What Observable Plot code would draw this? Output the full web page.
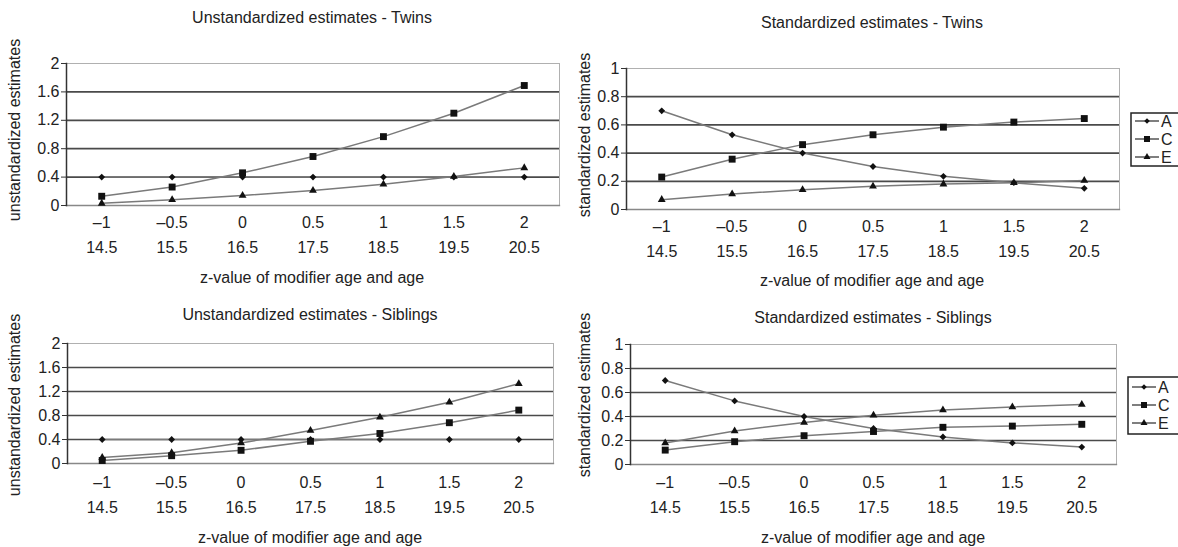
<!DOCTYPE html>
<html><head><meta charset="utf-8">
<script src="https://cdn.jsdelivr.net/npm/d3@7"></script>
<script src="https://cdn.jsdelivr.net/npm/@observablehq/plot@0.6"></script>
<style>
body{margin:0;background:#fff;overflow:hidden;}
#root{position:relative;width:1178px;height:547px;overflow:hidden;font-family:"Liberation Sans",Arial,sans-serif;color:#222;background:#fff;}
.t{position:absolute;font-size:16px;white-space:nowrap;transform:translate(-50%,-50%);line-height:1;}
.yl{position:absolute;font-size:16px;white-space:nowrap;transform:translate(-50%,-50%) rotate(-90deg);line-height:1;}
.p{position:absolute;}
</style></head><body><div id="root"></div>
<script>
// ---- data ----
const zValues = [-1, -0.5, 0, 0.5, 1, 1.5, 2];
const ageLabels = ["14.5", "15.5", "16.5", "17.5", "18.5", "19.5", "20.5"];
const seriesNames = ["A", "C", "E"];
const unstdTicks = [0, 0.4, 0.8, 1.2, 1.6, 2];
const stdTicks = [0, 0.2, 0.4, 0.6, 0.8, 1];

const twinsUnstdA = [0.40, 0.40, 0.40, 0.40, 0.40, 0.40, 0.40];
const twinsUnstdC = [0.13, 0.26, 0.46, 0.69, 0.97, 1.30, 1.69];
const twinsUnstdE = [0.03, 0.08, 0.14, 0.21, 0.30, 0.41, 0.53];

const twinsStdA = [0.70, 0.53, 0.40, 0.305, 0.235, 0.19, 0.15];
const twinsStdC = [0.23, 0.357, 0.46, 0.53, 0.584, 0.62, 0.645];
const twinsStdE = [0.07, 0.11, 0.14, 0.165, 0.18, 0.19, 0.205];

const sibUnstdA = [0.40, 0.40, 0.40, 0.40, 0.40, 0.40, 0.40];
const sibUnstdC = [0.05, 0.13, 0.22, 0.37, 0.50, 0.68, 0.89];
const sibUnstdE = [0.10, 0.18, 0.34, 0.55, 0.77, 1.02, 1.33];

const sibStdA = [0.70, 0.53, 0.40, 0.30, 0.23, 0.18, 0.145];
const sibStdC = [0.12, 0.19, 0.24, 0.275, 0.31, 0.32, 0.335];
const sibStdE = [0.18, 0.28, 0.35, 0.41, 0.455, 0.48, 0.50];

// ---- helpers ----
const root = document.getElementById("root");
const FONT = '"Liberation Sans", Arial, sans-serif';
const fmtZ = d => d < 0 ? "\u2013" + Math.abs(d) : String(d);
const fmtAge = d => ageLabels[zValues.indexOf(d)];
const symbolOf = {A: "square", C: "square", E: "triangle"};
const rotOf = {A: 45, C: 0, E: 0};
const rOf = {A: 2.7, C: 3.9, E: 2.9};

function addText(cls, text, x, y) {
  const el = document.createElement("div");
  el.className = cls;
  el.textContent = text;
  el.style.left = x + "px";
  el.style.top = y + "px";
  root.appendChild(el);
}

function panel(cfg) {
  const {left, top, width, height, fx0, fx1, fy0, fy1, yMax, yTicks, series, row1, row2} = cfg;
  const rows = [];
  seriesNames.forEach((s, k) => series[k].forEach((v, i) => rows.push({s, z: zValues[i], v})));
  const chart = Plot.plot({
    width, height,
    marginLeft: fx0 - left, marginRight: left + width - fx1,
    marginTop: fy0 - top, marginBottom: top + height - fy1,
    x: {domain: [-1.25, 2.25], label: null},
    y: {domain: [0, yMax], label: null},
    style: {fontFamily: FONT, fontSize: "16px", color: "#222", background: "transparent", overflow: "visible"},
    marks: [
      Plot.ruleY(yTicks.slice(1, -1), {stroke: "#4a4a4a", strokeWidth: 1.7}),
      Plot.frame({stroke: "#b0b0b0"}),
      Plot.frame({anchor: "bottom", stroke: "#888", strokeWidth: 1.3}),
      Plot.frame({anchor: "left", stroke: "#333", strokeWidth: 1.5}),
      Plot.axisY(yTicks, {tickSize: 5, tickPadding: 2, stroke: "#333", tickFormat: d => String(d), label: null}),
      Plot.axisX(zValues, {tickSize: 0, tickPadding: row1, tickFormat: fmtZ, label: null}),
      Plot.axisX(zValues, {tickSize: 0, tickPadding: row2, tickFormat: fmtAge, label: null}),
      Plot.line(rows, {x: "z", y: "v", z: "s", stroke: "#7a7a7a", strokeWidth: 1.5}),
      ...seriesNames.map(s => Plot.dot(rows.filter(d => d.s === s),
        {x: "z", y: "v", symbol: () => symbolOf[s], rotate: rotOf[s], r: rOf[s], fill: "#111", stroke: "none"}))
    ]
  });
  chart.classList.add("p");
  chart.style.left = left + "px";
  chart.style.top = top + "px";
  root.appendChild(chart);
}

function legend(left, top, rowsY, boxH) {
  const w = 62;
  const svg = d3.create("svg").attr("width", w).attr("height", boxH + 4)
    .style("position", "absolute").style("left", left + "px").style("top", top + "px")
    .style("font-family", FONT).style("font-size", "16px");
  svg.append("rect").attr("x", 1).attr("y", 1).attr("width", w).attr("height", boxH)
    .attr("fill", "#fff").attr("stroke", "#222").attr("stroke-width", 1.5);
  const symMap = {A: d3.symbolSquare, C: d3.symbolSquare, E: d3.symbolTriangle};
  const sizeMap = {A: Math.PI * 2.2 * 2.2, C: Math.PI * 3.4 * 3.4, E: Math.PI * 2.6 * 2.6};
  seriesNames.forEach((s, i) => {
    const y = rowsY[i];
    svg.append("line").attr("x1", 5).attr("x2", 29).attr("y1", y).attr("y2", y)
      .attr("stroke", "#555").attr("stroke-width", 1.5);
    svg.append("path").attr("d", d3.symbol(symMap[s], sizeMap[s])())
      .attr("transform", `translate(17,${y}) rotate(${s === "A" ? 45 : 0})`).attr("fill", "#111");
    svg.append("text").attr("x", 31).attr("y", y).attr("dy", "0.36em").attr("fill", "#222").text(s);
  });
  root.appendChild(svg.node());
}

// ---- panels ----
panel({left: 0, top: 0, width: 590, height: 280, fx0: 66, fx1: 559, fy0: 63, fy1: 205,
  yMax: 2, yTicks: unstdTicks, series: [twinsUnstdA, twinsUnstdC, twinsUnstdE], row1: 11, row2: 36});
panel({left: 590, top: 0, width: 588, height: 280, fx0: 626, fx1: 1119, fy0: 68, fy1: 209,
  yMax: 1, yTicks: stdTicks, series: [twinsStdA, twinsStdC, twinsStdE], row1: 11, row2: 36});
panel({left: 0, top: 280, width: 590, height: 267, fx0: 67, fx1: 553, fy0: 343, fy1: 463,
  yMax: 2, yTicks: unstdTicks, series: [sibUnstdA, sibUnstdC, sibUnstdE], row1: 13, row2: 38});
panel({left: 590, top: 280, width: 588, height: 267, fx0: 630, fx1: 1116, fy0: 344, fy1: 464,
  yMax: 1, yTicks: stdTicks, series: [sibStdA, sibStdC, sibStdE], row1: 12, row2: 37});

legend(1130, 112, [9, 27, 45], 53);
legend(1127, 376, [11, 29, 47], 57);

// ---- titles & axis labels ----
addText("t", "Unstandardized estimates - Twins", 312, 18);
addText("t", "Standardized estimates - Twins", 872, 23);
addText("t", "Unstandardized estimates - Siblings", 310, 315);
addText("t", "Standardized estimates - Siblings", 873, 318);
addText("t", "z-value of modifier age and age", 312, 278);
addText("t", "z-value of modifier age and age", 872, 281);
addText("t", "z-value of modifier age and age", 310, 538);
addText("t", "z-value of modifier age and age", 873, 538);
addText("yl", "unstandardized estimates", 15, 130);
addText("yl", "standardized estimates", 585, 135);
addText("yl", "unstandardized estimates", 15, 405);
addText("yl", "standardized estimates", 585, 395);
</script></body></html>
